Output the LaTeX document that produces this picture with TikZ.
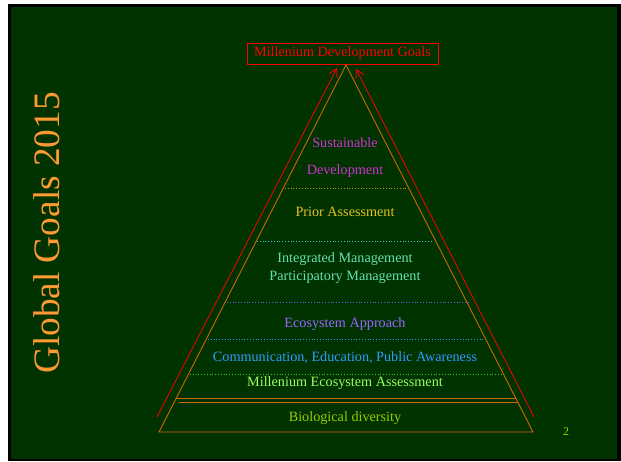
\documentclass[tikz,border=0pt]{standalone}
\usepackage{fontspec}
\setmainfont{Liberation Serif}
\usetikzlibrary{arrows.meta}
\definecolor{bggreen}{HTML}{003300}
\definecolor{pyr}{HTML}{CC6600}
\definecolor{tred}{HTML}{FF0000}
\definecolor{cmag}{HTML}{CC33CC}
\definecolor{cprior}{HTML}{E6C020}
\definecolor{cint}{HTML}{66E0B0}
\definecolor{ceco}{HTML}{9966FF}
\definecolor{ccom}{HTML}{3399FF}
\definecolor{cmea}{HTML}{99FF66}
\definecolor{cbio}{HTML}{99CC00}
\definecolor{cglob}{HTML}{FF9933}
\definecolor{dprior}{HTML}{CC9900}
\definecolor{dint}{HTML}{33CCCC}
\definecolor{deco}{HTML}{6666FF}
\definecolor{dcom}{HTML}{3399FF}
\definecolor{dmea}{HTML}{33CC33}
\begin{document}
\begin{tikzpicture}[x=1pt,y=-1pt,
  lbl/.style={inner sep=0pt,font=\fontsize{14.2}{16}\selectfont},
  sep/.style={dotted,line width=0.8pt},
  redarr/.style={tred,line width=0.8pt,-{Straight Barb[length=8pt,width=9pt]}}]
\useasboundingbox (0,0) rectangle (621,461);
\fill[white] (0,0) rectangle (621,461);
\fill[black] (8,4) rectangle (621,461);
\fill[bggreen] (11,7) rectangle (617,459);
% title box
\node[draw=tred,line width=0.9pt,text=tred,minimum width=191pt,minimum height=21pt,inner sep=0pt,font=\fontsize{14.2}{16}\selectfont] (mdg) at (342.5,53.5) {Millenium Development Goals};
% pyramid
\coordinate (apex) at (346,65);
\coordinate (bl) at (159,432);
\coordinate (br) at (533,432);
\draw[pyr,line width=0.9pt] (apex) -- (br) -- (bl) -- cycle;
\coordinate (d1l) at (176.3,398); \coordinate (d1r) at (515.7,398);
\coordinate (d2l) at (179,402); \coordinate (d2r) at (517.7,402);
\draw[pyr,line width=0.9pt] (d1l) -- (d1r);
\draw[pyr,line width=0.9pt] (d2l) -- (d2r);
% red arrows
\coordinate (ra0) at (157,417); \coordinate (ra1) at (337,68);
\coordinate (rb0) at (534,417); \coordinate (rb1) at (356,69);
\draw[redarr] (ra0) -- (ra1);
\draw[redarr] (rb0) -- (rb1);
% dotted separators
\coordinate (s1l) at (285,188); \coordinate (s1r) at (408,188);
\coordinate (s2l) at (257,241); \coordinate (s2r) at (433,241);
\coordinate (s3l) at (227,302); \coordinate (s3r) at (468,302);
\coordinate (s4l) at (208,339); \coordinate (s4r) at (483,339);
\coordinate (s5l) at (190,374); \coordinate (s5r) at (503,374);
\draw[sep,dprior] (s1l) -- (s1r);
\draw[sep,dint] (s2l) -- (s2r);
\draw[sep,deco] (s3l) -- (s3r);
\draw[sep,dcom] (s4l) -- (s4r);
\draw[sep,dmea] (s5l) -- (s5r);
% labels
\node[lbl,text=cmag] (sus) at (345,143) {Sustainable};
\node[lbl,text=cmag] (dev) at (345,171) {Development};
\node[lbl,text=cprior] (pri) at (345,212) {Prior Assessment};
\node[lbl,text=cint] (int) at (345,259) {Integrated Management};
\node[lbl,text=cint] (par) at (345,277) {Participatory Management};
\node[lbl,text=ceco] (eco) at (345,324) {Ecosystem Approach};
\node[lbl,text=ccom] (com) at (345,358) {Communication, Education, Public Awareness};
\node[lbl,text=cmea] (mea) at (345,383) {Millenium Ecosystem Assessment};
\node[lbl,text=cbio] (bio) at (345,418) {Biological diversity};
\node[lbl,text=cbio,font=\fontsize{12}{13}\selectfont] (pg) at (566,432) {2};
\node[inner sep=0pt,text=cglob,rotate=90,font=\fontsize{37.3}{40}\selectfont] (glob) at (47,233) {Global Goals 2015};
\end{tikzpicture}
\end{document}
